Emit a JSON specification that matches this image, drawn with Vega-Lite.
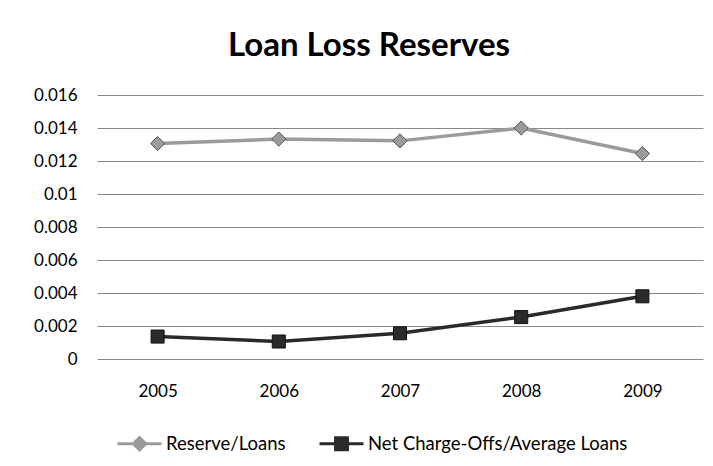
{
  "$schema": "https://vega.github.io/schema/vega-lite/v6.json",
  "width": 606,
  "height": 264,
  "autosize": "none",
  "padding": {"left": 97, "top": 95, "right": 10, "bottom": 107},
  "background": "white",
  "title": {
    "text": "Loan Loss Reserves",
    "font": "Lato",
    "fontSize": 33,
    "fontWeight": "bold",
    "color": "#000000",
    "anchor": "middle",
    "frame": "group",
    "dx": -31,
    "baseline": "alphabetic",
    "offset": -3
  },
  "config": {
    "view": {"stroke": null},
    "axis": {"labelFont": "Lato", "labelFontSize": 17, "labelColor": "#000000", "ticks": false, "domain": false, "title": null}
  },
  "data": {
    "values": [
      {"year": "2005", "series": "Reserve/Loans", "value": 0.01306},
      {"year": "2006", "series": "Reserve/Loans", "value": 0.01333},
      {"year": "2007", "series": "Reserve/Loans", "value": 0.01322},
      {"year": "2008", "series": "Reserve/Loans", "value": 0.01400},
      {"year": "2009", "series": "Reserve/Loans", "value": 0.01245},
      {"year": "2005", "series": "Net Charge-Offs/Average Loans", "value": 0.00136},
      {"year": "2006", "series": "Net Charge-Offs/Average Loans", "value": 0.00106},
      {"year": "2007", "series": "Net Charge-Offs/Average Loans", "value": 0.00156},
      {"year": "2008", "series": "Net Charge-Offs/Average Loans", "value": 0.00254},
      {"year": "2009", "series": "Net Charge-Offs/Average Loans", "value": 0.00380}
    ]
  },
  "encoding": {
    "x": {
      "field": "year",
      "type": "ordinal",
      "scale": {"type": "point", "padding": 0.5},
      "axis": {"labelAngle": 0, "labelPadding": 24, "grid": false}
    },
    "y": {
      "field": "value",
      "type": "quantitative",
      "scale": {"domain": [0, 0.016], "nice": false},
      "axis": {
        "values": [0, 0.002, 0.004, 0.006, 0.008, 0.01, 0.012, 0.014, 0.016],
        "format": "~g",
        "grid": true,
        "gridColor": "#8a8a8a",
        "gridWidth": 1,
        "labelPadding": 20
      }
    }
  },
  "layer": [
    {
      "mark": {"type": "line", "strokeWidth": 3.5},
      "encoding": {
        "color": {
          "field": "series",
          "type": "nominal",
          "sort": ["Reserve/Loans", "Net Charge-Offs/Average Loans"],
          "scale": {"domain": ["Reserve/Loans", "Net Charge-Offs/Average Loans"], "range": ["#9b9b9b", "#2a2a2a"]},
          "legend": {
            "orient": "none",
            "legendX": 19,
            "legendY": 325,
            "direction": "horizontal",
            "title": null,
            "labelFont": "Lato",
            "labelFontSize": 18.5,
            "labelColor": "#000000",
            "labelLimit": 400,
            "symbolSize": 1936,
            "symbolStrokeWidth": 3,
            "columnPadding": 27,
            "labelOffset": 3,
            "encode": {
              "symbols": {
                "update": {
                  "shape": {"signal": "datum.value == 'Reserve/Loans' ? 'M-1,0H1M0,-0.28L0.28,0L0,0.28L-0.28,0Z' : 'M-1,0H1M-0.27,-0.27H0.27V0.27H-0.27Z'"},
                  "fill": {"signal": "datum.value == 'Reserve/Loans' ? '#9b9b9b' : '#2a2a2a'"},
                  "stroke": {"signal": "datum.value == 'Reserve/Loans' ? '#9b9b9b' : '#2a2a2a'"}
                }
              }
            }
          }
        }
      }
    },
    {
      "transform": [{"filter": "datum.series == 'Reserve/Loans'"}],
      "mark": {"type": "point", "shape": "diamond", "size": 200, "filled": true, "fill": "#9b9b9b", "stroke": "#555555", "strokeWidth": 1, "opacity": 1}
    },
    {
      "transform": [{"filter": "datum.series == 'Net Charge-Offs/Average Loans'"}],
      "mark": {"type": "point", "shape": "square", "size": 170, "filled": true, "fill": "#2a2a2a", "stroke": "#111111", "strokeWidth": 1, "opacity": 1}
    }
  ]
}
